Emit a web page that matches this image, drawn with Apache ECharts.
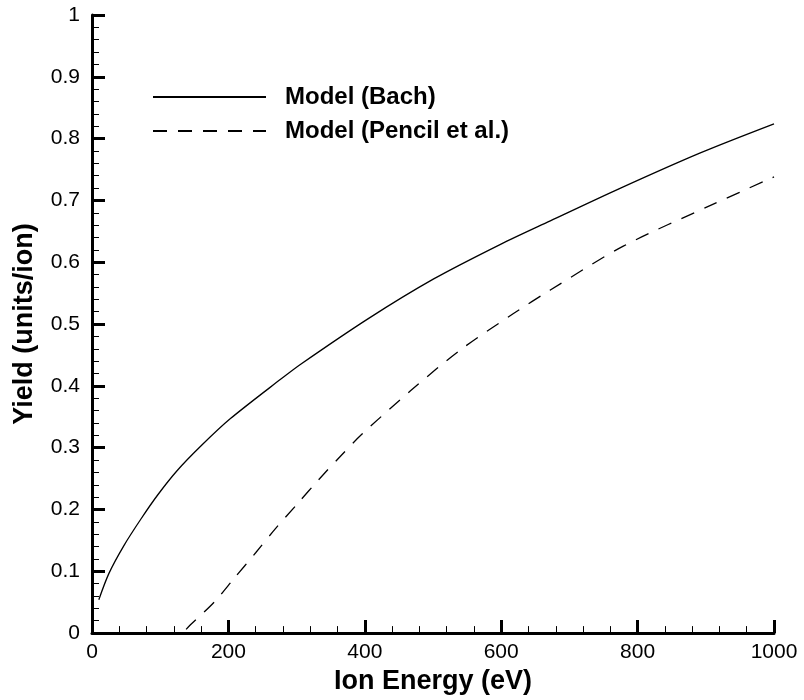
<!DOCTYPE html>
<html>
<head>
<meta charset="utf-8">
<script src="https://cdn.jsdelivr.net/npm/echarts@6/dist/echarts.min.js"></script>
<style>
  html, body { margin: 0; padding: 0; background: #fff; }
  #chart { width: 804px; height: 700px; }
</style>
</head>
<body>
<div id="chart"></div>
<script>
const bachEnergy = [10, 25, 47, 72, 96, 125, 160, 203, 277, 306, 404, 501, 599, 672, 775, 892, 1000]
const bachYield = [0.054, 0.097, 0.142, 0.185, 0.223, 0.263, 0.303, 0.347, 0.411, 0.435, 0.508, 0.573, 0.629, 0.667, 0.72, 0.777, 0.824]
const pencilEnergy = [138, 144, 179, 208, 240, 269, 301, 333, 365, 396, 467, 540, 618, 672, 779, 911, 1000]
const pencilYield = [0.006, 0.013, 0.05, 0.088, 0.13, 0.169, 0.209, 0.249, 0.287, 0.322, 0.392, 0.458, 0.517, 0.555, 0.626, 0.694, 0.738]
const seriesNames = ['Model (Bach)', 'Model (Pencil et al.)']

const font = 'Liberation Sans, Arial, Helvetica, sans-serif'
const zip = (xs, ys) => xs.map((x, i) => [x, ys[i]])

const chart = echarts.init(document.getElementById('chart'))
chart.setOption({
  animation: false,
  grid: { left: 92, right: 30, top: 15, bottom: 65 },
  legend: {
    orient: 'vertical',
    left: 152,
    top: 85,
    padding: 0,
    itemWidth: 113,
    itemHeight: 24,
    itemGap: 10,
    itemStyle: { opacity: 0 },
    textStyle: { fontFamily: font, fontWeight: 'bold', fontSize: 24, color: '#000', padding: [0, 0, 0, 14] },
    data: seriesNames
  },
  xAxis: {
    type: 'value',
    min: 0,
    max: 1000,
    interval: 200,
    name: 'Ion Energy (eV)',
    nameLocation: 'middle',
    nameGap: 30,
    nameTextStyle: { fontFamily: font, fontWeight: 'bold', fontSize: 27, color: '#000', verticalAlign: 'top' },
    axisLine: { lineStyle: { color: '#000', width: 3 } },
    axisTick: { inside: true, length: 13, lineStyle: { color: '#000', width: 3 } },
    minorTick: { show: true, splitNumber: 5, length: 7, lineStyle: { color: '#000', width: 1 } },
    axisLabel: { fontFamily: font, fontSize: 21, color: '#000', margin: 9, formatter: v => String(v) },
    splitLine: { show: false }
  },
  yAxis: {
    type: 'value',
    min: 0,
    max: 1,
    interval: 0.1,
    name: 'Yield (units/ion)',
    nameLocation: 'middle',
    nameGap: 54,
    nameTextStyle: { fontFamily: font, fontWeight: 'bold', fontSize: 27, color: '#000' },
    axisLine: { lineStyle: { color: '#000', width: 3 } },
    axisTick: { inside: true, length: 13, lineStyle: { color: '#000', width: 3 } },
    minorTick: { show: true, splitNumber: 5, length: 7, lineStyle: { color: '#000', width: 1 } },
    axisLabel: { fontFamily: font, fontSize: 21, color: '#000', margin: 12 },
    splitLine: { show: false }
  },
  series: [
    {
      name: seriesNames[0],
      type: 'line',
      smooth: 0.3,
      symbol: 'none',
      itemStyle: { color: '#000' },
      lineStyle: { color: '#000', width: 1.3 },
      data: zip(bachEnergy, bachYield)
    },
    {
      name: seriesNames[1],
      type: 'line',
      smooth: 0.3,
      symbol: 'none',
      itemStyle: { color: '#000' },
      lineStyle: { color: '#000', width: 1.3, type: [14, 11] },
      data: zip(pencilEnergy, pencilYield)
    }
  ]
})
</script>
</body>
</html>
